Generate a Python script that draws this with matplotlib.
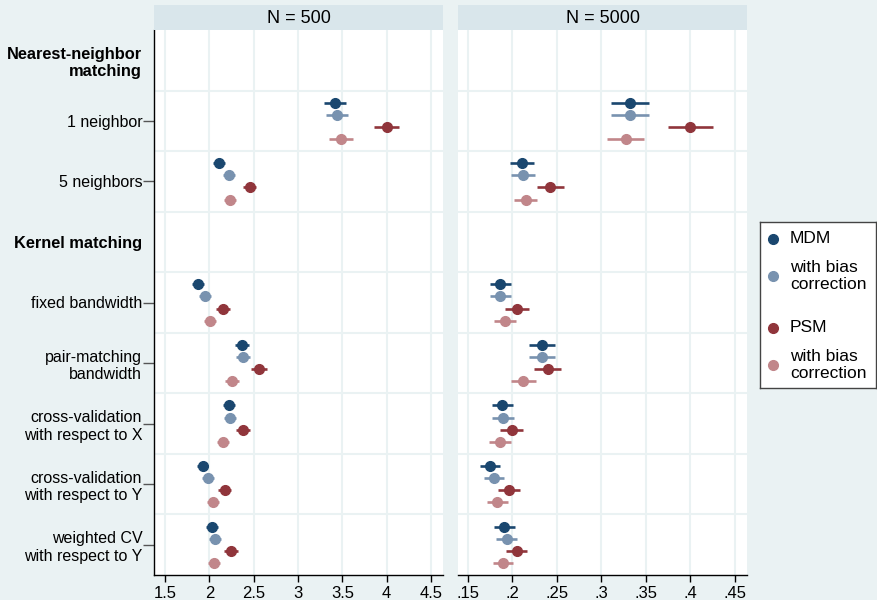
import matplotlib
matplotlib.use("Agg")
import matplotlib.pyplot as plt
import numpy as np

plt.rcParams["font.family"] = ["Liberation Sans", "DejaVu Sans"]

# ---- data -------------------------------------------------------------
row_labels = [
    "Nearest-neighbor\nmatching", "1 neighbor", "5 neighbors", "Kernel matching",
    "fixed bandwidth", "pair-matching\nbandwidth", "cross-validation\nwith respect to X",
    "cross-validation\nwith respect to Y", "weighted CV\nwith respect to Y",
]
header_rows = [0, 3]
est_rows = [1, 2, 4, 5, 6, 7, 8]

series_labels = ["MDM", "with bias\ncorrection", "PSM", "with bias\ncorrection"]
series_colors = ["#1a476f", "#7892af", "#90353b", "#c1868a"]

panel_titles = ["N = 500", "N = 5000"]

n500_mdm = [3.42, 2.107, 1.871, 2.369, 2.223, 1.923, 2.025]
n500_mdm_bc = [3.44, 2.222, 1.949, 2.376, 2.234, 1.987, 2.066]
n500_psm = [4.00, 2.455, 2.155, 2.564, 2.384, 2.174, 2.242]
n500_psm_bc = [3.485, 2.234, 2.009, 2.256, 2.152, 2.043, 2.054]
n500_mdm_ci = [0.124, 0.065, 0.066, 0.079, 0.070, 0.065, 0.068]
n500_mdm_bc_ci = [0.127, 0.065, 0.066, 0.080, 0.070, 0.065, 0.068]
n500_psm_ci = [0.144, 0.070, 0.079, 0.090, 0.080, 0.075, 0.078]
n500_psm_bc_ci = [0.130, 0.065, 0.071, 0.077, 0.070, 0.065, 0.068]

n5000_mdm = [0.332, 0.2107, 0.1864, 0.2331, 0.1886, 0.1751, 0.1908]
n5000_mdm_bc = [0.332, 0.2114, 0.1864, 0.2331, 0.1893, 0.1796, 0.1934]
n5000_psm = [0.400, 0.2425, 0.2051, 0.2395, 0.1991, 0.1961, 0.2047]
n5000_psm_bc = [0.3275, 0.2148, 0.1919, 0.2122, 0.1860, 0.1830, 0.1897]
n5000_mdm_ci = [0.0217, 0.0133, 0.0118, 0.0150, 0.0120, 0.0114, 0.0116]
n5000_mdm_bc_ci = [0.0211, 0.0135, 0.0120, 0.0150, 0.0120, 0.0112, 0.0118]
n5000_psm_ci = [0.0250, 0.0150, 0.0131, 0.0155, 0.0129, 0.0127, 0.0121]
n5000_psm_bc_ci = [0.0208, 0.0133, 0.0124, 0.0139, 0.0121, 0.0116, 0.0112]

n500_ticks = [1.5, 2, 2.5, 3, 3.5, 4, 4.5]
n500_ticklabels = ["1.5", "2", "2.5", "3", "3.5", "4", "4.5"]
n5000_ticks = [0.15, 0.2, 0.25, 0.3, 0.35, 0.4, 0.45]
n5000_ticklabels = [".15", ".2", ".25", ".3", ".35", ".4", ".45"]

panels = [
    dict(est=[n500_mdm, n500_mdm_bc, n500_psm, n500_psm_bc],
         ci=[n500_mdm_ci, n500_mdm_bc_ci, n500_psm_ci, n500_psm_bc_ci],
         ticks=n500_ticks, ticklabels=n500_ticklabels, xlim=(1.376, 4.635)),
    dict(est=[n5000_mdm, n5000_mdm_bc, n5000_psm, n5000_psm_bc],
         ci=[n5000_mdm_ci, n5000_mdm_bc_ci, n5000_psm_ci, n5000_psm_bc_ci],
         ticks=n5000_ticks, ticklabels=n5000_ticklabels, xlim=(0.1388, 0.4635)),
]

# ---- figure -----------------------------------------------------------
BG = "#eaf2f3"
STRIP = "#d9e6eb"
GRID = "#eaf2f3"
W, H = 878, 600

fig = plt.figure(figsize=(W / 100, H / 100), dpi=100, facecolor=BG)

offsets = [-0.3, -0.1, 0.1, 0.3]
ax_lefts = [154, 458]
ax_w = 289
ax_top, ax_bot = 30, 575

for p, (panel, x0) in enumerate(zip(panels, ax_lefts)):
    ax = fig.add_axes([x0 / W, 1 - ax_bot / H, ax_w / W, (ax_bot - ax_top) / H])
    ax.set_facecolor("white")

    ys = np.array(est_rows, dtype=float)
    for k in range(4):
        ax.errorbar(panel["est"][k], ys + offsets[k], xerr=panel["ci"][k],
                    fmt="o", color=series_colors[k], ms=7, elinewidth=1.9,
                    capsize=0, zorder=3)

    ax.set_ylim(len(row_labels) - 0.5, -0.5)
    ax.set_xlim(*panel["xlim"])
    ax.set_xticks(panel["ticks"])
    ax.set_xticklabels(panel["ticklabels"], fontsize=12)
    ax.tick_params(axis="x", length=5, width=1, color="black", pad=3)

    ax.set_yticks(np.arange(0.5, len(row_labels) - 1, 1.0), minor=True)
    ax.grid(axis="x", which="major", color=GRID, lw=1.5, zorder=0)
    ax.grid(axis="y", which="minor", color=GRID, lw=1.5, zorder=0)
    ax.tick_params(axis="y", which="minor", length=0)
    ax.set_axisbelow(True)

    for s in ["top", "right"]:
        ax.spines[s].set_visible(False)
    ax.spines["bottom"].set_color("black")
    ax.spines["bottom"].set_linewidth(1)

    if p == 0:
        ax.set_yticks(range(len(row_labels)))
        ax.set_yticklabels(row_labels, fontsize=11.5)
        ax.tick_params(axis="y", which="major", length=8, width=1,
                       color="#555555", pad=0.5)
        ax.spines["left"].set_color("black")
        ax.spines["left"].set_linewidth(1)
        ticks = ax.yaxis.get_major_ticks()
        for i in header_rows:
            ticks[i].tick1line.set_visible(False)
            ticks[i].label1.set_fontweight("bold")
            ticks[i].label1.set_fontsize(11.8)
    else:
        ax.set_yticks([])
        ax.spines["left"].set_visible(False)

    # header strip
    sax = fig.add_axes([x0 / W, 1 - ax_top / H, ax_w / W, 25 / H])
    sax.set_facecolor(STRIP)
    sax.set_xticks([])
    sax.set_yticks([])
    for s in sax.spines.values():
        s.set_visible(False)
    sax.text(0.5, 0.45, panel_titles[p], ha="center", va="center", fontsize=13,
             transform=sax.transAxes)

# ---- legend -----------------------------------------------------------
lx0, lx1, ly0, ly1 = 760, 876, 222, 388
lax = fig.add_axes([lx0 / W, 1 - ly1 / H, (lx1 - lx0) / W, (ly1 - ly0) / H])
lax.set_facecolor("white")
lax.set_xlim(lx0, lx1)
lax.set_ylim(ly1, ly0)
lax.set_xticks([])
lax.set_yticks([])
for s in lax.spines.values():
    s.set_color("#444444")
    s.set_linewidth(1)
entry_y = [239, 276, 328, 365]
for k in range(4):
    lax.plot([773], [entry_y[k]], "o", color=series_colors[k], ms=7)
    lax.text(790, entry_y[k], series_labels[k], ha="left", va="center",
             fontsize=12.5, linespacing=1.1)

fig.savefig("out.png", dpi=100, facecolor=BG)
